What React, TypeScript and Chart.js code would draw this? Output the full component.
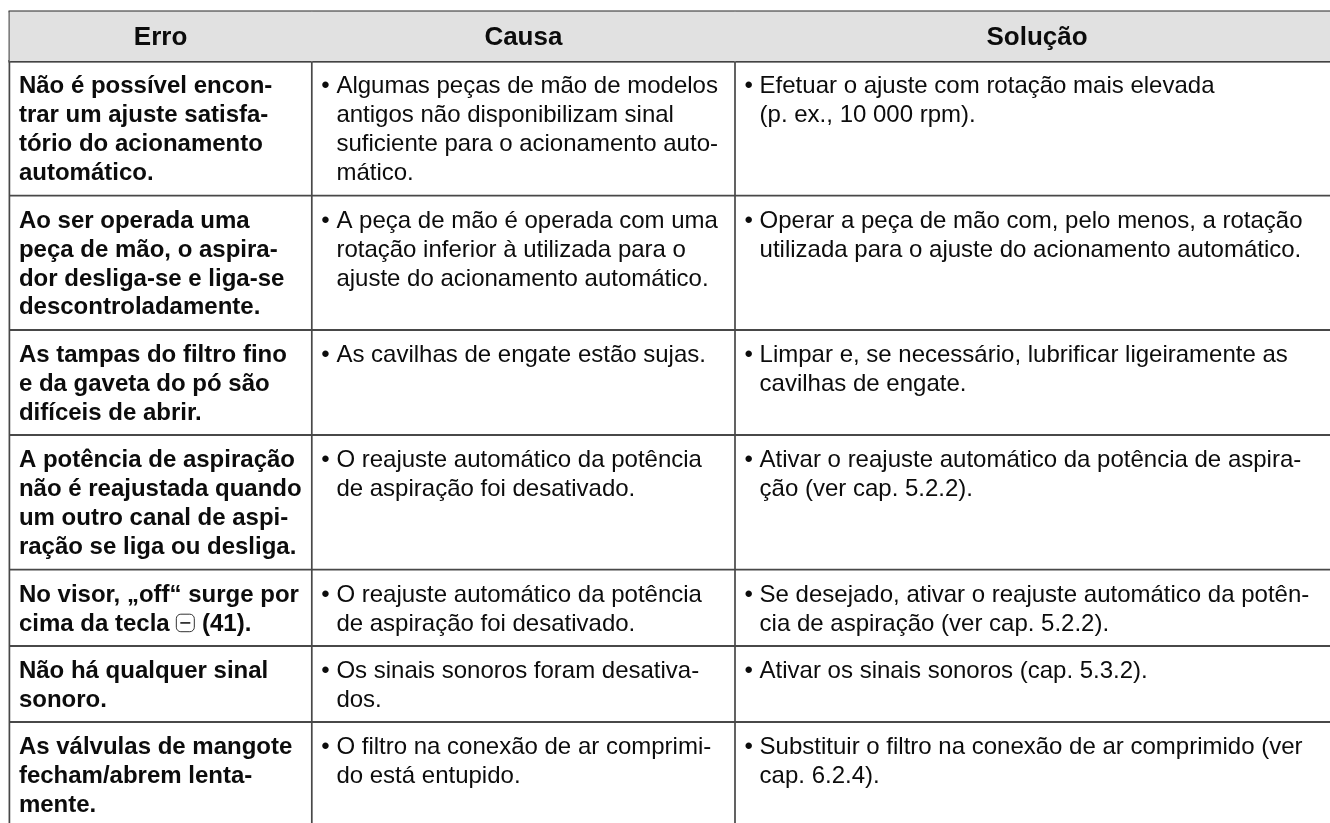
import React, { useEffect, useRef } from "react";
import { Chart, registerables } from "chart.js";

Chart.register(...registerables);

const headers = ["Erro", "Causa", "Solução"];

const errors = [
  ["Não é possível encon-", "trar um ajuste satisfa-", "tório do acionamento", "automático."],
  ["Ao ser operada uma", "peça de mão, o aspira-", "dor desliga-se e liga-se", "descontroladamente."],
  ["As tampas do filtro fino", "e da gaveta do pó são", "difíceis de abrir."],
  ["A potência de aspiração", "não é reajustada quando", "um outro canal de aspi-", "ração se liga ou desliga."],
  ["No visor, „off“ surge por", "cima da tecla ⊟ (41)."],
  ["Não há qualquer sinal", "sonoro."],
  ["As válvulas de mangote", "fecham/abrem lenta-", "mente."],
];

const causes = [
  ["Algumas peças de mão de modelos", "antigos não disponibilizam sinal", "suficiente para o acionamento auto-", "mático."],
  ["A peça de mão é operada com uma", "rotação inferior à utilizada para o", "ajuste do acionamento automático."],
  ["As cavilhas de engate estão sujas."],
  ["O reajuste automático da potência", "de aspiração foi desativado."],
  ["O reajuste automático da potência", "de aspiração foi desativado."],
  ["Os sinais sonoros foram desativa-", "dos."],
  ["O filtro na conexão de ar comprimi-", "do está entupido."],
];

const solutions = [
  ["Efetuar o ajuste com rotação mais elevada", "(p. ex., 10 000 rpm)."],
  ["Operar a peça de mão com, pelo menos, a rotação", "utilizada para o ajuste do acionamento automático."],
  ["Limpar e, se necessário, lubrificar ligeiramente as", "cavilhas de engate."],
  ["Ativar o reajuste automático da potência de aspira-", "ção (ver cap. 5.2.2)."],
  ["Se desejado, ativar o reajuste automático da potên-", "cia de aspiração (ver cap. 5.2.2)."],
  ["Ativar os sinais sonoros (cap. 5.3.2)."],
  ["Substituir o filtro na conexão de ar comprimido (ver", "cap. 6.2.4)."],
];

// Layout, in page pixels (the hidden scales run 1:1 over the page)
const W = 1330;
const H = 823;
const COL_X = [9.4, 311.8, 735, 1339];
const TOP_Y = 11.4;
const HEAD_Y = 61.2;
const ROW_BOTTOM_Y = [195.7, 330, 435, 569.7, 646, 722];
const LINE_H = 28.8;
const FIRST_BASE = 32.2;
const HEAD_BASE = 45.4;
const PAD = 9.5;
const HANG = 24.6;
const RULE = "#484848";
const TEXT = "#0c0c0c";
const FONT_SIZE = 24;

const ruleSet = (points: { x: number; y: number }[], width: number, color = RULE) => ({
  data: points,
  borderColor: color,
  borderWidth: width,
  pointRadius: 0,
  tension: 0,
  fill: false,
});

const tablePlugin = {
  id: "tableText",
  afterDatasetsDraw(chart: any) {
    const { ctx, scales } = chart;
    const px = (v: number) => scales.x.getPixelForValue(v);
    const py = (v: number) => scales.y.getPixelForValue(v);
    ctx.save();
    ctx.fillStyle = TEXT;
    ctx.textBaseline = "alphabetic";

    ctx.font = `bold 26px "Liberation Sans"`;
    ctx.textAlign = "center";
    headers.forEach((h, c) => {
      ctx.fillText(h, px((COL_X[c] + COL_X[c + 1]) / 2), py(HEAD_BASE));
    });
    ctx.textAlign = "left";

    const rowTops = [HEAD_Y, ...ROW_BOTTOM_Y];
    rowTops.forEach((top, r) => {
      ctx.font = `bold ${FONT_SIZE}px "Liberation Sans"`;
      ctx.fillStyle = TEXT;
      errors[r].forEach((line, i) => {
        const y = py(top + FIRST_BASE + i * LINE_H);
        const x = px(COL_X[0] + PAD);
        const parts = line.split("⊟");
        ctx.fillText(parts[0], x, y);
        if (parts.length > 1) {
          const ix = x + ctx.measureText(parts[0]).width;
          ctx.save();
          ctx.strokeStyle = "#333333";
          ctx.lineWidth = 1;
          ctx.beginPath();
          ctx.roundRect(ix, y - 16.5, 18, 17.5, 4.5);
          ctx.stroke();
          ctx.lineWidth = 1.8;
          ctx.beginPath();
          ctx.moveTo(ix + 4, y - 7.8);
          ctx.lineTo(ix + 14, y - 7.8);
          ctx.stroke();
          ctx.restore();
          ctx.fillText(parts[1], ix + 19, y);
        }
      });
      ctx.font = `${FONT_SIZE}px "Liberation Sans"`;
      [causes[r], solutions[r]].forEach((lines, c) => {
        const edge = COL_X[c + 1];
        ctx.fillText("•", px(edge + PAD), py(top + FIRST_BASE));
        lines.forEach((line, i) => {
          ctx.fillText(line, px(edge + HANG), py(top + FIRST_BASE + i * LINE_H));
        });
      });
    });
    ctx.restore();
  },
};

export default function App() {
  const ref = useRef<HTMLCanvasElement | null>(null);

  useEffect(() => {
    if (!ref.current) return;
    const datasets: any[] = [
      {
        data: [{ x: COL_X[0], y: TOP_Y }, { x: W, y: TOP_Y }],
        borderWidth: 0,
        pointRadius: 0,
        backgroundColor: "#e1e1e1",
        fill: { target: { value: HEAD_Y } },
      },
      ...COL_X.slice(0, 3).map((x) => ruleSet([{ x, y: TOP_Y }, { x, y: H }], 1.7)),
      ruleSet([{ x: COL_X[0] - 0.85, y: TOP_Y }, { x: W, y: TOP_Y }], 1.6, "#262626"),
      ruleSet([{ x: COL_X[0] - 0.85, y: HEAD_Y }, { x: W, y: HEAD_Y }], 2.4, "#0e0e0e"),
      ...ROW_BOTTOM_Y.map((y) => ruleSet([{ x: COL_X[0], y }, { x: W, y }], 1.8)),
    ];
    const chart = new Chart(ref.current, {
      type: "line",
      data: { datasets },
      options: {
        animation: false,
        responsive: false,
        devicePixelRatio: 1,
        layout: { padding: 0 },
        plugins: { legend: { display: false }, tooltip: { enabled: false } },
        scales: {
          x: { type: "linear", min: 0, max: W, display: false },
          y: { type: "linear", min: 0, max: H, reverse: true, display: false },
        },
      },
      plugins: [tablePlugin],
    } as any);
    return () => chart.destroy();
  }, []);

  return (
    <canvas
      ref={ref}
      width={W}
      height={H}
      style={{ position: "absolute", left: 0, top: 0, display: "block", background: "#ffffff" }}
    />
  );
}
